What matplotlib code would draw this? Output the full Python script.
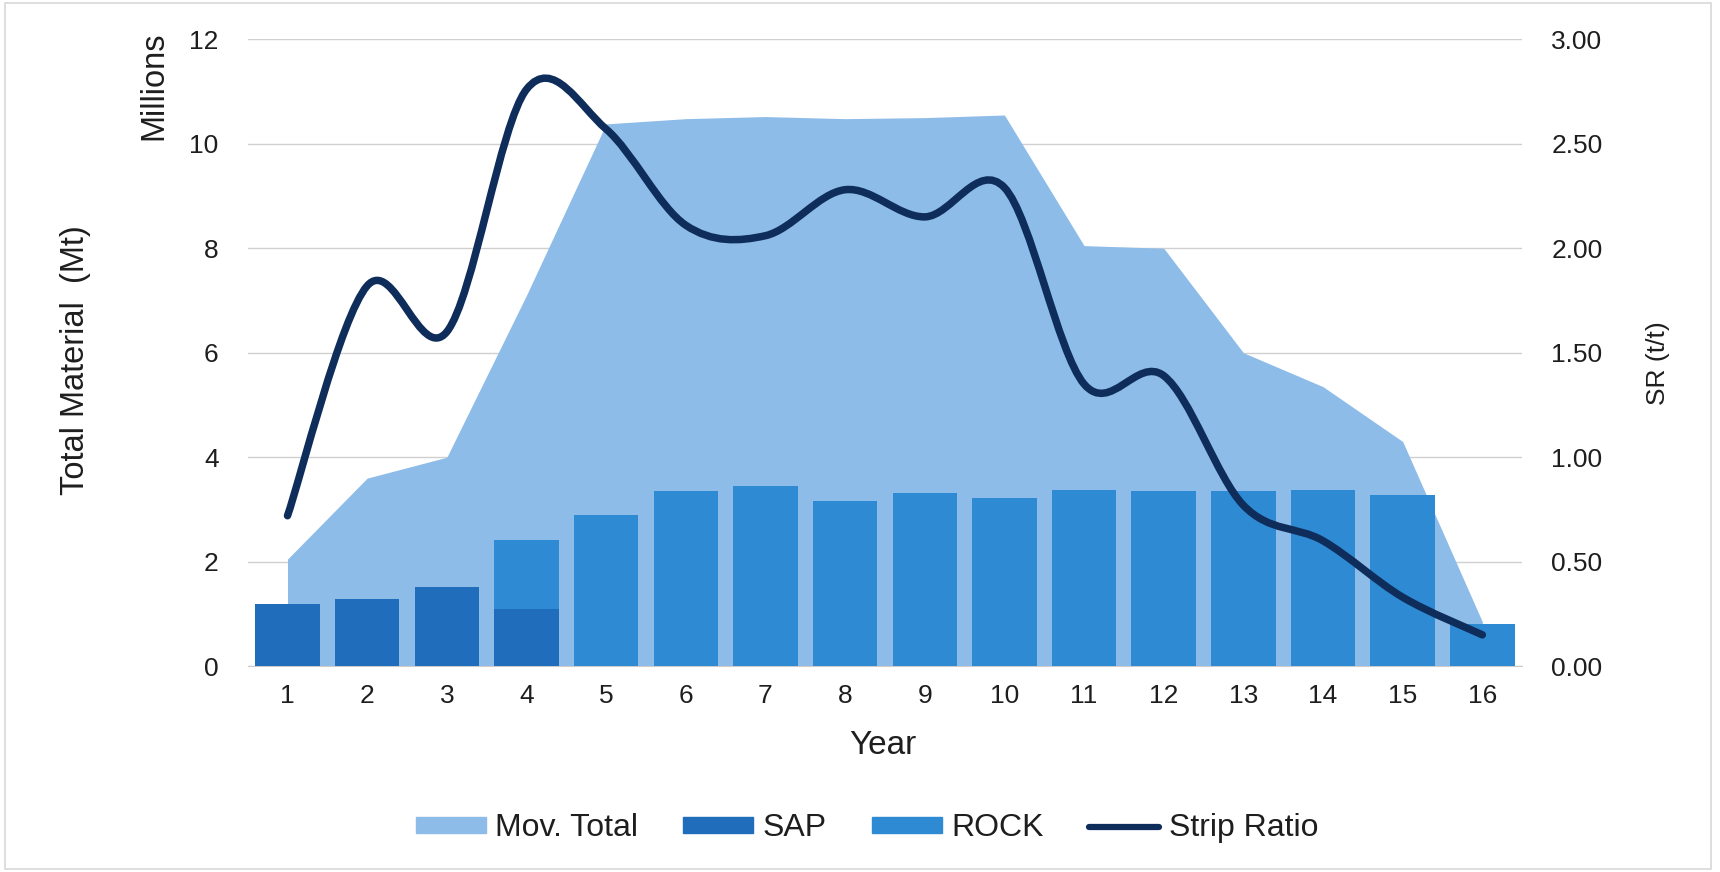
import numpy as np
import matplotlib.pyplot as plt
from matplotlib.path import Path
from matplotlib.patches import PathPatch, Rectangle
from matplotlib.lines import Line2D

plt.rcParams['font.family'] = ['Liberation Sans', 'DejaVu Sans']

years = list(range(1, 17))
mov_total = [2.05, 3.6, 4.0, 7.1, 10.38, 10.48, 10.52, 10.48, 10.5, 10.55,
             8.05, 8.0, 6.0, 5.35, 4.3, 0.85]
sap = [1.19, 1.28, 1.51, 1.09, 0, 0, 0, 0, 0, 0, 0, 0, 0, 0, 0, 0]
rock = [0, 0, 0, 1.32, 2.89, 3.35, 3.45, 3.17, 3.31, 3.22, 3.37, 3.35, 3.35, 3.37, 3.28, 0.8]
strip_ratio = [0.72, 1.82, 1.60, 2.76, 2.57, 2.11, 2.06, 2.28, 2.15, 2.29,
               1.35, 1.39, 0.77, 0.60, 0.33, 0.15]

c_area = '#8dbce9'
c_sap = '#1f6dbb'
c_rock = '#2e8ad2'
c_line = '#0e2d5b'
c_text = '#1e1e1e'

fig = plt.figure(figsize=(17.2, 8.72), dpi=100)
ax = fig.add_axes([0.144, 0.236, 0.741, 0.719])
ax2 = ax.twinx()

ax.fill_between(years, mov_total, 0, color=c_area, lw=0, zorder=2)
ax.bar(years, sap, width=0.81, color=c_sap, zorder=3)
ax.bar(years, rock, width=0.81, bottom=sap, color=c_rock, zorder=3)

# excel-like smoothed line (catmull-rom as bezier segments)
x = np.array(years, dtype=float)
y = np.array(strip_ratio)
verts = [(x[0], y[0])]
codes = [Path.MOVETO]
n = len(x)
for i in range(n - 1):
    p0 = i - 1 if i > 0 else i
    p3 = i + 2 if i + 2 < n else i + 1
    c1 = (x[i] + (x[i + 1] - x[p0]) / 6, y[i] + (y[i + 1] - y[p0]) / 6)
    c2 = (x[i + 1] - (x[p3] - x[i]) / 6, y[i + 1] - (y[p3] - y[i]) / 6)
    verts += [c1, c2, (x[i + 1], y[i + 1])]
    codes += [Path.CURVE4] * 3
ax2.add_patch(PathPatch(Path(verts, codes), fill=False, ec=c_line, lw=5.4,
                        capstyle='round', joinstyle='round', zorder=5))

ax.set_xlim(0.5, 16.5)
ax.set_ylim(0, 12)
ax2.set_ylim(0, 3)
ax.set_yticks(range(0, 13, 2))
ax2.set_yticks(np.arange(0, 3.01, 0.5))
ax2.set_yticklabels(['%.2f' % v for v in np.arange(0, 3.01, 0.5)])
ax.set_xticks(years)

ax.grid(axis='y', color='#d0d0d0', lw=1)
ax.set_axisbelow(True)
for a in (ax, ax2):
    for s in a.spines.values():
        s.set_visible(False)
    a.tick_params(length=0, labelsize=19, colors=c_text)
ax.spines['bottom'].set_visible(True)
ax.spines['bottom'].set_color('#cccccc')
ax.tick_params(axis='y', pad=21)
ax.tick_params(axis='x', pad=13)
ax2.tick_params(axis='y', pad=21)

fig.text(0.513, 0.1445, 'Year', fontsize=24, ha='center', va='center', color=c_text)
fig.text(0.044, 0.587, 'Total Material  (Mt)', rotation=90, fontsize=23.5,
         ha='center', va='center', color=c_text)
fig.text(0.0895, 0.964, 'Millions', rotation=90, fontsize=23.5, ha='center', va='top',
         color=c_text)
fig.text(0.964, 0.583, 'SR (t/t)', rotation=90, fontsize=19, ha='center', va='center',
         color=c_text)

handles = [Rectangle((0, 0), 1, 1, color=c_area),
           Rectangle((0, 0), 1, 1, color=c_sap),
           Rectangle((0, 0), 1, 1, color=c_rock),
           Line2D([0], [0], color=c_line, lw=4.5, solid_capstyle='round')]
leg = fig.legend(handles, ['Mov. Total', 'SAP', 'ROCK', 'Strip Ratio'],
                 loc='center', bbox_to_anchor=(0.504, 0.05), ncol=4, frameon=False,
                 fontsize=23, handlelength=2.2, handleheight=0.42, columnspacing=1.4,
                 handletextpad=0.3)
for t in leg.get_texts():
    t.set_color(c_text)

fig.add_artist(Rectangle((0.003, 0.004), 0.992, 0.992, transform=fig.transFigure,
                         fill=False, ec='#d8d8d8', lw=1.2))

fig.savefig('out.png', dpi=100)
